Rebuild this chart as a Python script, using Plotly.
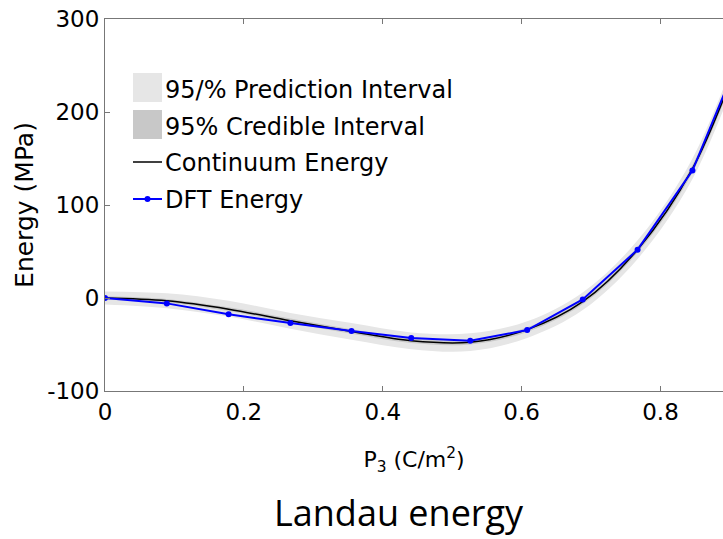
import plotly.graph_objects as go

p3 = [0, 0.089, 0.178, 0.267, 0.355, 0.441, 0.526, 0.608, 0.688, 0.767, 0.846, 0.925]
dft_energy = [0, -5.8, -17.5, -27, -35.5, -43, -46, -34.5, -1.5, 52, 137, 280]
continuum_energy = [0, -3, -12, -24.5, -36, -46, -47.5, -34, -4, 52, 139, 282]
pred_lo = [-7, -11, -20, -33, -45, -55, -57, -43, -13, 42, 128, 270]
pred_hi = [7, 5, -3, -16, -27, -37, -38, -25, 6, 62, 150, 294]
cred_lo = [-2, -5, -14, -27, -38.5, -48.5, -50, -36.5, -6.5, 49, 135, 277]
cred_hi = [2, -1, -10, -22, -33.5, -43.5, -45, -31.5, -1.5, 55, 143, 287]

x_ticks = [0, 0.2, 0.4, 0.6, 0.8]
x_labels = ["0", "0.2", "0.4", "0.6", "0.8"]
y_ticks = [-100, 0, 100, 200, 300]
y_labels = ["-100", "0", "100", "200", "300"]

legend_names = ["95/% Prediction Interval", "95% Credible Interval", "Continuum Energy", "DFT Energy"]

PRED_COLOR = "#e6e6e6"
CRED_COLOR = "#c8c8c8"
BLUE = "#0000ff"
FONT = "DejaVu Sans, Liberation Sans, Arial, sans-serif"

fig = go.Figure()
fig.add_trace(go.Scatter(x=p3, y=pred_lo, mode="lines", line=dict(width=0, shape="spline"),
                         showlegend=False, hoverinfo="skip"))
fig.add_trace(go.Scatter(x=p3, y=pred_hi, mode="lines", line=dict(width=0, shape="spline"),
                         fill="tonexty", fillcolor=PRED_COLOR, name=legend_names[0], showlegend=False))
fig.add_trace(go.Scatter(x=p3, y=cred_lo, mode="lines", line=dict(width=0, shape="spline"),
                         showlegend=False, hoverinfo="skip"))
fig.add_trace(go.Scatter(x=p3, y=cred_hi, mode="lines", line=dict(width=0, shape="spline"),
                         fill="tonexty", fillcolor=CRED_COLOR, name=legend_names[1], showlegend=False))
fig.add_trace(go.Scatter(x=p3, y=continuum_energy, mode="lines",
                         line=dict(color="black", width=1.5, shape="spline"),
                         name=legend_names[2], showlegend=False))
fig.add_trace(go.Scatter(x=p3, y=dft_energy, mode="lines+markers",
                         line=dict(color=BLUE, width=2),
                         marker=dict(color=BLUE, size=6),
                         name=legend_names[3], showlegend=False))

# ---- hand-built legend (paper coordinates of the plot area) ----
L, T, W, H = 105, 19, 618, 372  # plot area in pixels


def px(xp):
    return (xp - L) / W


def py(yp):
    return (T + H - yp) / H


shapes = [
    dict(type="rect", xref="paper", yref="paper", x0=px(133), x1=px(162), y0=py(102), y1=py(73),
         fillcolor=PRED_COLOR, line=dict(width=0), layer="above"),
    dict(type="rect", xref="paper", yref="paper", x0=px(133), x1=px(162), y0=py(139), y1=py(110),
         fillcolor=CRED_COLOR, line=dict(width=0), layer="above"),
    dict(type="line", xref="paper", yref="paper", x0=px(133), x1=px(162), y0=py(162), y1=py(162),
         line=dict(color="black", width=1.5)),
    dict(type="line", xref="paper", yref="paper", x0=px(133), x1=px(162), y0=py(199), y1=py(199),
         line=dict(color=BLUE, width=2)),
    dict(type="circle", xref="paper", yref="paper", x0=px(144.5), x1=px(150.5), y0=py(202), y1=py(196),
         fillcolor=BLUE, line=dict(width=0)),
]

annotations = []
for name, ypix in zip(legend_names, [90, 127, 163, 200]):
    annotations.append(dict(text=name, xref="paper", yref="paper", x=px(163), y=py(ypix),
                            xanchor="left", yanchor="middle", showarrow=False,
                            font=dict(family=FONT, size=24, color="black")))

annotations.append(dict(text="Landau energy", xref="paper", yref="paper", x=px(399), y=py(538),
                        xanchor="center", yanchor="bottom", showarrow=False, borderpad=0,
                        font=dict(family="Open Sans, Noto Sans, sans-serif", size=36, color="black")))

axis_common = dict(
    showgrid=False, zeroline=False, showline=True, linecolor="#777777", linewidth=1,
    ticks="inside", ticklen=5, tickcolor="#777777",
    tickfont=dict(family=FONT, size=23, color="black"),
)

fig.update_layout(
    width=723, height=539,
    margin=dict(l=L, r=0, t=T, b=539 - T - H),
    paper_bgcolor="white", plot_bgcolor="white",
    showlegend=False,
    xaxis=dict(range=[0, 0.89], tickvals=x_ticks, ticktext=x_labels, mirror="ticks",
               title=dict(text="P<sub>3</sub> (C/m<sup>2</sup>)", standoff=28,
                          font=dict(family=FONT, size=22, color="black")),
               **axis_common),
    yaxis=dict(range=[-100, 300], tickvals=y_ticks, ticktext=y_labels,
               title=dict(text="Energy (MPa)", standoff=6,
                          font=dict(family=FONT, size=25, color="black")),
               **axis_common),
    shapes=shapes,
    annotations=annotations,
)

fig.write_html("out.html")
